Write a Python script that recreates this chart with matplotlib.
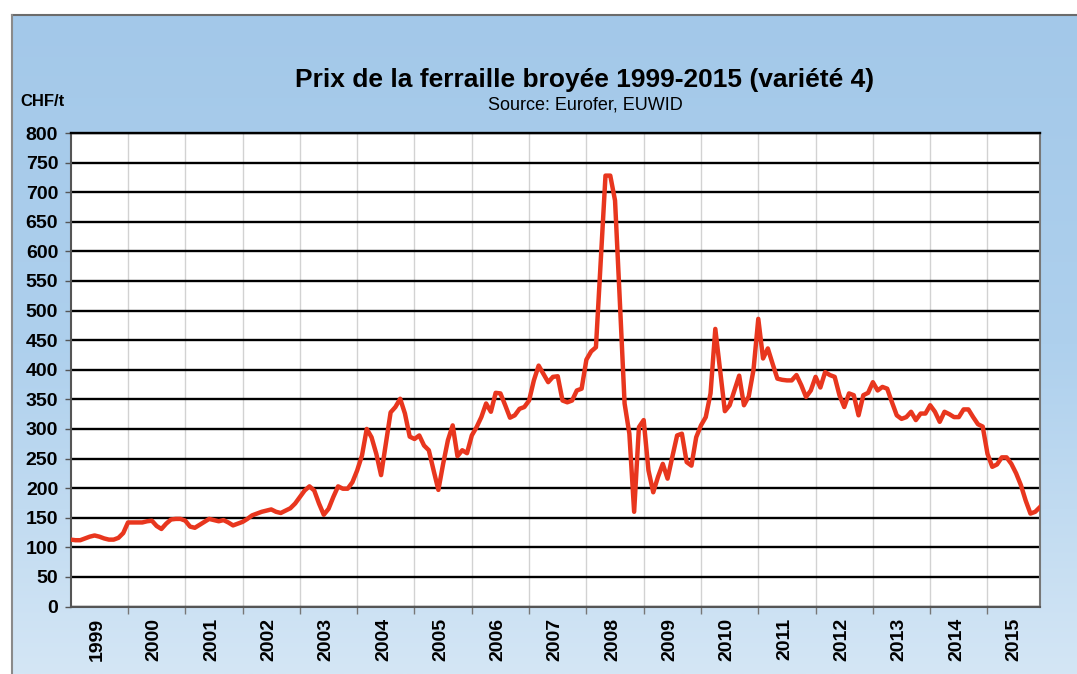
import matplotlib.pyplot as plt
import numpy as np
from matplotlib.colors import LinearSegmentedColormap

plt.rcParams['font.family'] = ['Liberation Sans Narrow', 'Liberation Sans', 'DejaVu Sans']

# monthly prices (CHF/t), Jan 1999 .. Dec 2015
years = list(range(1999, 2016))
p1999 = [113, 112, 112, 115, 118, 120, 118, 115, 113, 113, 116, 124]
p2000 = [142, 142, 142, 142, 144, 145, 136, 131, 140, 147, 148, 148]
p2001 = [145, 135, 133, 138, 143, 148, 146, 144, 146, 142, 137, 140]
p2002 = [143, 148, 154, 157, 160, 162, 164, 160, 158, 162, 166, 174]
p2003 = [185, 196, 203, 196, 174, 155, 165, 185, 203, 199, 199, 210]
p2004 = [230, 255, 300, 286, 258, 222, 275, 328, 337, 351, 326, 287]
p2005 = [283, 289, 272, 264, 230, 197, 241, 281, 306, 254, 264, 259]
p2006 = [289, 303, 320, 343, 329, 361, 360, 340, 319, 323, 334, 337]
p2007 = [348, 382, 407, 393, 379, 388, 389, 348, 345, 348, 365, 368]
p2008 = [417, 431, 438, 582, 728, 728, 686, 517, 343, 292, 160, 303]
p2009 = [315, 230, 193, 219, 241, 216, 253, 289, 292, 244, 238, 286]
p2010 = [306, 320, 360, 469, 400, 330, 340, 365, 390, 340, 355, 400]
p2011 = [486, 419, 436, 410, 385, 383, 382, 382, 391, 374, 354, 365]
p2012 = [388, 370, 396, 391, 388, 357, 337, 360, 357, 323, 357, 361]
p2013 = [379, 365, 371, 368, 345, 323, 317, 320, 329, 315, 326, 326]
p2014 = [340, 329, 312, 329, 325, 320, 320, 333, 333, 320, 308, 304]
p2015 = [258, 236, 240, 252, 252, 241, 225, 205, 179, 157, 160, 168]

prices = (p1999 + p2000 + p2001 + p2002 + p2003 + p2004 + p2005 + p2006 + p2007
          + p2008 + p2009 + p2010 + p2011 + p2012 + p2013 + p2014 + p2015)
months = np.arange(len(prices))

W, H = 1077, 674
fig = plt.figure(figsize=(W / 100, H / 100), dpi=100)
fig.patch.set_facecolor('white')

# blue gradient backdrop with grey frame
bg = fig.add_axes([0, 0, 1, 1], zorder=-10)
bg.set_xlim(0, W)
bg.set_ylim(H, 0)
bg.axis('off')
cmap = LinearSegmentedColormap.from_list('bg', ['#a3c8e9', '#aed0ed', '#d4e6f5'])
grad = np.linspace(0, 1, 256).reshape(-1, 1)
bg.imshow(grad, cmap=cmap, aspect='auto', extent=(12, W, H, 15), zorder=0)
bg.plot([12, W], [15, 15], color='#6b6b6b', lw=1.5, zorder=1)
bg.plot([12, 12], [15, H], color='#8a8a8a', lw=1.5, zorder=1)

left, right, top, bottom = 70.7, 1040, 133, 606.5
ax = fig.add_axes([left / W, 1 - bottom / H, (right - left) / W, (bottom - top) / H])
ax.set_facecolor('white')

ax.plot(months, prices, color='#e8361e', lw=3.2, solid_joinstyle='round', zorder=5)

ax.set_xlim(0, len(prices) - 1)
ax.set_ylim(0, 800)

ax.set_yticks(np.arange(0, 801, 50))
ax.yaxis.grid(True, color='black', lw=1.7, zorder=1)
ax.tick_params(axis='y', length=4, width=1, color='#555555', labelsize=14, pad=5)
for lab in ax.get_yticklabels():
    lab.set_fontweight('bold')

bounds = [12 * k for k in range(1, len(years))]
ax.set_xticks(bounds)
ax.set_xticklabels([])
ax.xaxis.grid(True, color='#d2d2d2', lw=1, zorder=1)
ax.tick_params(axis='x', which='major', length=5, width=1, color='#777777')
ax.set_xticks([12 * k + 5.5 for k in range(len(years))], minor=True)
ax.set_xticklabels([str(y) for y in years], minor=True, rotation=90,
                   fontsize=14, fontweight='bold')
ax.tick_params(axis='x', which='minor', length=0, pad=8)
ax.set_axisbelow(True)

for s in ['left', 'bottom']:
    ax.spines[s].set_color('#555555')
    ax.spines[s].set_linewidth(1.5)
ax.spines['top'].set_color('black')
ax.spines['top'].set_linewidth(1.7)
ax.spines['right'].set_color('#777777')
ax.spines['right'].set_linewidth(1.5)

fig.text(585 / W, 1 - 80 / H, 'Prix de la ferraille broyée 1999-2015 (variété 4)',
         ha='center', va='center', fontsize=19, fontweight='bold')
fig.text(585 / W, 1 - 105 / H, 'Source: Eurofer, EUWID',
         ha='center', va='center', fontsize=13)
fig.text(20 / W, 1 - 101 / H, 'CHF/t', ha='left', va='center',
         fontsize=12, fontweight='bold')

fig.savefig('out.png', dpi=100)
